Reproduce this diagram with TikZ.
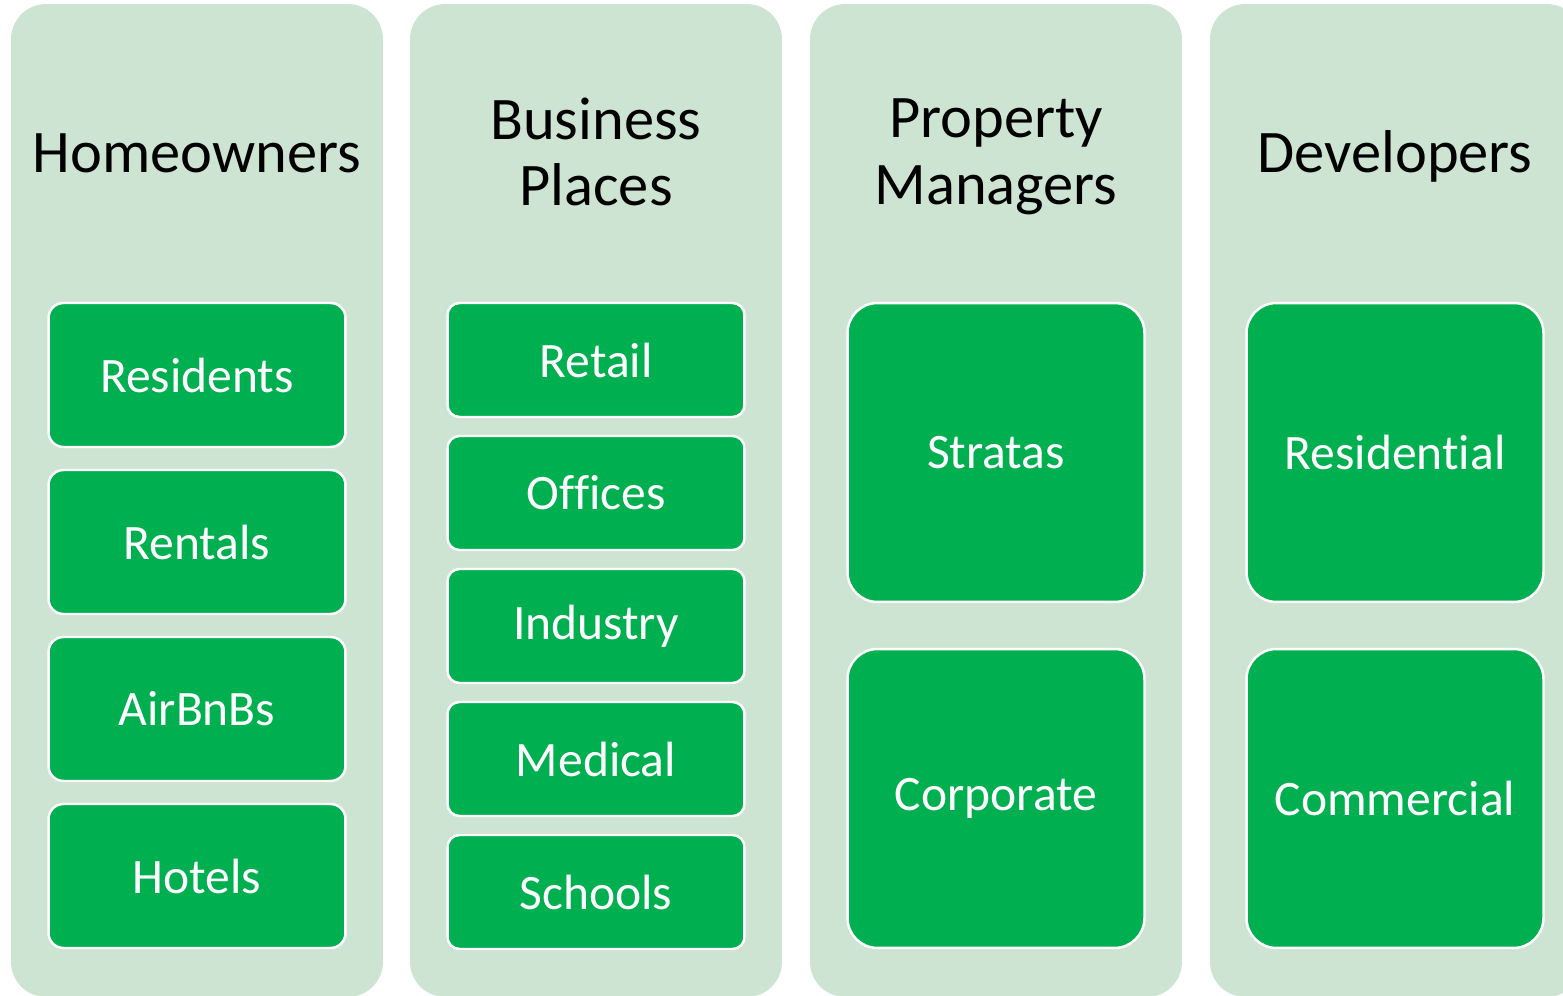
\documentclass[tikz,border=0pt]{standalone}
\usepackage{fontspec}
\setmainfont{Carlito}[Ligatures=NoCommon]
\usepackage{tikz}

\definecolor{panelgreen}{HTML}{CCE4D1}
\definecolor{boxgreen}{HTML}{00AF50}

\tikzset{
	panel/.style={fill=panelgreen, draw=none, rounded corners=0.7cm, minimum width=7.44cm, minimum height=19.86cm, inner sep=0pt},
	head/.style={align=center, font=\fontsize{34.4}{38}\selectfont, text=black, inner sep=0pt},
	itembox/.style={fill=boxgreen, draw=white, line width=1.4pt, minimum width=5.94cm, inner sep=0pt, text=white, font=\fontsize{28.2}{32}\selectfont},
}

\begin{document}
\begin{tikzpicture}[x=0.02cm, y=-0.02cm]
			\useasboundingbox (0,0) rectangle (1563,996);
			
			\node[panel] (P1) at (197,500.5) {};
			\node[panel] (P2) at (596,500.5) {};
			\node[panel] (P3) at (996,500.5) {};
			\node[panel] (P4) at (1396,500.5) {};
			
			\node[head] (H1) at (197,153) {Homeowners};
			\node[head] (H2) at (596,152) {Business\\Places};
			\node[head] (H3) at (996,157) {Property\\Managers};
			\node[head] (H4) at (1395,156) {Developers};
			
			\node[itembox, minimum height=2.88cm, rounded corners=0.3cm] (Residents) at (197,375) {Residents};
			\node[itembox, minimum height=2.88cm, rounded corners=0.3cm] (Rentals) at (197,542) {Rentals};
			\node[itembox, minimum height=2.88cm, rounded corners=0.3cm] (AirBnBs) at (197,709) {AirBnBs};
			\node[itembox, minimum height=2.88cm, rounded corners=0.3cm] (Hotels) at (197,876) {Hotels};
			
			\node[itembox, minimum height=2.28cm, rounded corners=0.24cm] (Retail) at (596,360) {Retail};
			\node[itembox, minimum height=2.28cm, rounded corners=0.24cm] (Offices) at (596,493) {Offices};
			\node[itembox, minimum height=2.28cm, rounded corners=0.24cm] (Industry) at (596,626) {Industry};
			\node[itembox, minimum height=2.28cm, rounded corners=0.24cm] (Medical) at (596,759) {Medical};
			\node[itembox, minimum height=2.28cm, rounded corners=0.24cm] (Schools) at (596,892) {Schools};
			
			\node[itembox, minimum height=5.98cm, rounded corners=0.6cm] (Stratas) at (996,452.5) {Stratas};
			\node[itembox, minimum height=5.98cm, rounded corners=0.6cm] (Corporate) at (996,798.5) {Corporate};
			
			\node[itembox, minimum height=5.98cm, rounded corners=0.6cm] (Residential) at (1395,452.5) {Residential};
			\node[itembox, minimum height=5.98cm, rounded corners=0.6cm] (Commercial) at (1395,798.5) {Commercial};
			\end{tikzpicture}
\end{document}
